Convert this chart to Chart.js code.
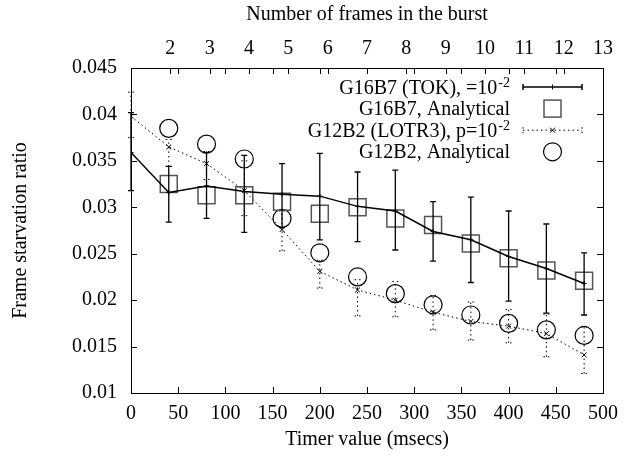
<!DOCTYPE html>
<html>
<head>
<meta charset="utf-8">
<script src="https://cdn.jsdelivr.net/npm/chart.js@4"></script>
<style>
  html, body { margin: 0; padding: 0; background: #fff; }
  #wrap { width: 627px; height: 457px; }
</style>
</head>
<body>
<div id="wrap"><canvas id="burstChart" width="627" height="457"></canvas></div>
<script>
const timerMs = [0, 40, 80, 120, 160, 200, 240, 280, 320, 360, 400, 440, 480];

const tokRatio = [0.0359, 0.0316, 0.0323, 0.0317, 0.0314, 0.0312, 0.0301, 0.0296, 0.0274, 0.0265, 0.0247, 0.0234, 0.0218];
const tokLow   = [0.0318, 0.0284, 0.0288, 0.0273, 0.0278, 0.0265, 0.0263, 0.0254, 0.0242, 0.0219, 0.0199, 0.0186, 0.0184];
const tokHigh  = [0.0402, 0.0344, 0.0359, 0.0356, 0.0347, 0.0358, 0.0338, 0.0340, 0.0306, 0.0311, 0.0296, 0.0282, 0.0251];
const tokModel = [0.0325, 0.0313, 0.0313, 0.0306, 0.0293, 0.0300, 0.0288, 0.0281, 0.0261, 0.0245, 0.0232, 0.0221];

const lotrRatio = [0.0398, 0.0365, 0.0347, 0.0318, 0.0276, 0.0231, 0.0211, 0.0200, 0.0187, 0.0177, 0.0172, 0.0164, 0.0141];
const lotrLow   = [0.0375, 0.0344, 0.0330, 0.0291, 0.0253, 0.0213, 0.0183, 0.0182, 0.0168, 0.0157, 0.0154, 0.0139, 0.0121];
const lotrHigh  = [0.0424, 0.0373, 0.0360, 0.0350, 0.0296, 0.0243, 0.0222, 0.0220, 0.0205, 0.0198, 0.0190, 0.0185, 0.0171];
const lotrModel = [0.0385, 0.0368, 0.0352, 0.0288, 0.0251, 0.0225, 0.0207, 0.0195, 0.0184, 0.0175, 0.0168, 0.0162];

const frameTicks = [2, 3, 4, 5, 6, 7, 8, 9, 10, 11, 12, 13];
const ratioTicks = [0.01, 0.015, 0.02, 0.025, 0.03, 0.035, 0.04, 0.045];

const FONT = "'Liberation Serif', 'DejaVu Serif', serif";
const DOTS = [1.5, 3];
const SQUARE_GRAY = "#555";

function pts(xs, ys) {
  return ys.map((y, i) => ({ x: xs[i], y: y }));
}

// vertical error bars, drawn right after their own series
const errorBars = {
  id: "errorBars",
  afterDatasetDraw(chart, args) {
    const ds = chart.data.datasets[args.index];
    if (!ds.errLow) return;
    const { ctx, scales: { x, y } } = chart;
    ctx.save();
    ctx.strokeStyle = ds.borderColor;
    ctx.lineWidth = ds.errWidth || 1;
    ctx.setLineDash(ds.borderDash || []);
    ds.data.forEach((p, i) => {
      const px = x.getPixelForValue(p.x);
      const lo = y.getPixelForValue(ds.errLow[i]);
      const hi = y.getPixelForValue(ds.errHigh[i]);
      ctx.beginPath();
      ctx.moveTo(px, lo); ctx.lineTo(px, hi);
      ctx.moveTo(px - 3, lo); ctx.lineTo(px + 3, lo);
      ctx.moveTo(px - 3, hi); ctx.lineTo(px + 3, hi);
      ctx.stroke();
    });
    ctx.restore();
  }
};

// gnuplot-like frame with inward ticks on all sides
const frameTicksPlugin = {
  id: "frameTicks",
  afterDraw(chart) {
    const { ctx, chartArea: a, scales } = chart;
    ctx.save();
    ctx.strokeStyle = "#000";
    ctx.lineWidth = 1;
    ctx.setLineDash([]);
    ctx.beginPath();
    const L = 6;
    scales.x.ticks.forEach(t => {
      const px = Math.round(scales.x.getPixelForValue(t.value)) + 0.5;
      ctx.moveTo(px, a.bottom); ctx.lineTo(px, a.bottom - L);
      ctx.moveTo(px, a.top); ctx.lineTo(px, a.top + L);
    });
    scales.x2.ticks.forEach(t => {
      const px = Math.round(scales.x2.getPixelForValue(t.value)) + 0.5;
      ctx.moveTo(px, a.top); ctx.lineTo(px, a.top + L);
    });
    scales.y.ticks.forEach(t => {
      const py = Math.round(scales.y.getPixelForValue(t.value)) + 0.5;
      ctx.moveTo(a.left, py); ctx.lineTo(a.left + L, py);
      ctx.moveTo(a.right, py); ctx.lineTo(a.right - L, py);
    });
    ctx.stroke();
    ctx.strokeRect(Math.round(a.left) + 0.5, Math.round(a.top) + 0.5,
      Math.round(a.right - a.left), Math.round(a.bottom - a.top));
    ctx.restore();
  }
};

// legend inside the frame: right-aligned text, sample on the right
const keyPlugin = {
  id: "key",
  afterDraw(chart) {
    const { ctx } = chart;
    const textRight = 510, sampleL = 523, sampleR = 582, sampleC = 552.5;
    const rows = [
      { text: "G16B7 (TOK), =10", sup: "-2", kind: "tok" },
      { text: "G16B7, Analytical", kind: "square" },
      { text: "G12B2 (LOTR3), p=10", sup: "-2", kind: "lotr" },
      { text: "G12B2, Analytical", kind: "circle" }
    ];
    ctx.save();
    rows.forEach((r, i) => {
      const yc = 87 + i * 21.6;
      const base = yc + 6.5;
      ctx.fillStyle = "#000";
      ctx.textBaseline = "alphabetic";
      ctx.textAlign = "right";
      let right = textRight;
      if (r.sup) {
        ctx.font = "14px " + FONT;
        ctx.fillText(r.sup, right, base - 7);
        right -= ctx.measureText(r.sup).width + 1;
      }
      ctx.font = "20px " + FONT;
      ctx.fillText(r.text, right, base);

      ctx.strokeStyle = "#000";
      ctx.lineWidth = 1;
      ctx.beginPath();
      if (r.kind === "tok" || r.kind === "lotr") {
        ctx.setLineDash(r.kind === "lotr" ? DOTS : []);
        ctx.lineWidth = r.kind === "lotr" ? 1 : 1.5;
        ctx.moveTo(sampleL, yc); ctx.lineTo(sampleR, yc);
        ctx.moveTo(sampleL, yc - 3); ctx.lineTo(sampleL, yc + 3);
        ctx.moveTo(sampleR, yc - 3); ctx.lineTo(sampleR, yc + 3);
        ctx.stroke();
        ctx.setLineDash([]);
        ctx.lineWidth = 1;
        ctx.beginPath();
        if (r.kind === "tok") {
          ctx.moveTo(sampleC, yc - 2.5); ctx.lineTo(sampleC, yc + 2.5);
        } else {
          ctx.moveTo(sampleC - 2.5, yc - 2.5); ctx.lineTo(sampleC + 2.5, yc + 2.5);
          ctx.moveTo(sampleC + 2.5, yc - 2.5); ctx.lineTo(sampleC - 2.5, yc + 2.5);
        }
        ctx.stroke();
      } else if (r.kind === "square") {
        ctx.strokeStyle = SQUARE_GRAY;
        ctx.lineWidth = 1.5;
        ctx.strokeRect(sampleC - 8.5, yc - 8.5, 17, 17);
      } else {
        ctx.lineWidth = 1.2;
        ctx.arc(sampleC, yc, 9, 0, Math.PI * 2);
        ctx.stroke();
      }
    });
    ctx.restore();
  }
};

const tickFont = { family: FONT, size: 20 };

new Chart(document.getElementById("burstChart").getContext("2d"), {
  type: "line",
  data: {
    datasets: [
      {
        label: "G16B7 (TOK)",
        data: pts(timerMs, tokRatio),
        errLow: tokLow, errHigh: tokHigh, errWidth: 1.3,
        borderColor: "#000", borderWidth: 1.5,
        pointStyle: "cross", pointRadius: 2.5, pointBorderWidth: 1,
        pointBorderColor: "#000",
        tension: 0
      },
      {
        label: "G16B7, Analytical",
        data: pts(timerMs.slice(1), tokModel),
        showLine: false,
        pointStyle: "rect", pointRadius: 12, pointBorderWidth: 1.5,
        pointBorderColor: SQUARE_GRAY, pointBackgroundColor: "rgba(0,0,0,0)",
        borderColor: SQUARE_GRAY
      },
      {
        label: "G12B2 (LOTR3)",
        data: pts(timerMs, lotrRatio),
        errLow: lotrLow, errHigh: lotrHigh, errWidth: 1,
        borderColor: "#000", borderWidth: 1, borderDash: DOTS,
        pointStyle: "crossRot", pointRadius: 3.5, pointBorderWidth: 1,
        pointBorderColor: "#000",
        tension: 0
      },
      {
        label: "G12B2, Analytical",
        data: pts(timerMs.slice(1), lotrModel),
        showLine: false,
        pointStyle: "circle", pointRadius: 9, pointBorderWidth: 1.2,
        pointBorderColor: "#000", pointBackgroundColor: "rgba(0,0,0,0)",
        borderColor: "#000"
      }
    ]
  },
  options: {
    responsive: false,
    animation: false,
    events: [],
    layout: { padding: { left: 0, right: 20, top: 0, bottom: 0 } },
    plugins: { legend: { display: false }, tooltip: { enabled: false } },
    scales: {
      x: {
        type: "linear", position: "bottom", min: 0, max: 500,
        grid: { display: false, drawTicks: false },
        border: { display: false },
        ticks: { stepSize: 50, padding: 9, color: "#000", font: tickFont, maxRotation: 0 },
        title: { display: true, text: "Timer value (msecs)", color: "#000",
                 font: { family: FONT, size: 20 }, padding: { top: 0, bottom: 5.5 } },
        afterFit: s => { s.height = 64; }
      },
      x2: {
        type: "linear", position: "top", min: 1, max: 13,
        grid: { display: false, drawTicks: false },
        border: { display: false },
        afterBuildTicks: s => { s.ticks = frameTicks.map(v => ({ value: v })); },
        ticks: { padding: 7.5, color: "#000", font: tickFont, maxRotation: 0 },
        title: { display: true, text: "Number of frames in the burst", color: "#000",
                 font: { family: FONT, size: 20 }, padding: { top: 2.5, bottom: 0 } },
        afterFit: s => { s.height = 68; }
      },
      y: {
        type: "linear", min: 0.01, max: 0.045,
        grid: { display: false, drawTicks: false },
        border: { display: false },
        afterBuildTicks: s => { s.ticks = ratioTicks.map(v => ({ value: v })); },
        ticks: { padding: 14, color: "#000", font: tickFont,
                 callback: v => String(Number(v.toFixed(3))) },
        title: { display: true, text: "Frame starvation ratio", color: "#000",
                 font: { family: FONT, size: 20 }, padding: { top: 9, bottom: 0 } },
        afterFit: s => { s.width = 131; }
      }
    }
  },
  plugins: [errorBars, frameTicksPlugin, keyPlugin]
});
</script>
</body>
</html>
